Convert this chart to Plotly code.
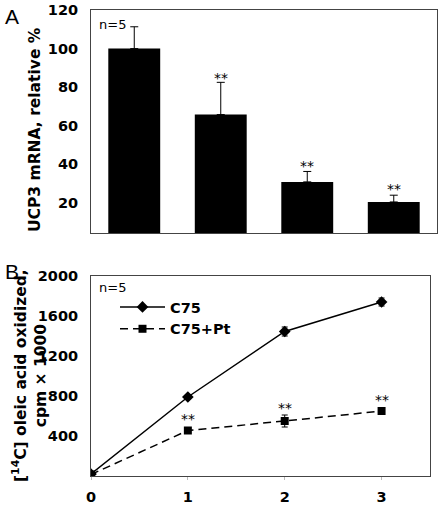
import plotly.graph_objects as go

# Panel A data
a_x = [0, 1, 2, 3]
a_vals = [100, 65.8, 30.9, 20.5]
a_err = [11.3, 16.7, 5.4, 3.5]
a_star_idx = [1, 2, 3]
a_star_y = [84.7, 38.9, 27.4]
a_yticks = [20, 40, 60, 80, 100, 120]

# Panel B data
b_x = [0, 1, 2, 3]
c75 = [20, 790, 1445, 1740]
c75_err = [0, 20, 45, 40]
c75pt = [15, 455, 550, 650]
c75pt_err = [0, 15, 60, 30]
b_star_x = [1, 2, 3]
b_star_y = [570, 677, 760]
b_yticks = [400, 800, 1200, 1600, 2000]
b_xticks = [0, 1, 2, 3]

FONT = "DejaVu Sans"
fig = go.Figure()

fig.add_trace(go.Bar(
    x=a_x, y=a_vals, marker=dict(color="black", line=dict(width=0)),
    error_y=dict(type="data", symmetric=False, array=a_err, arrayminus=[0]*4,
                 color="black", thickness=1, width=4),
    xaxis="x", yaxis="y", showlegend=False))

fig.add_trace(go.Scatter(
    x=b_x, y=c75, mode="lines+markers", name="C75",
    line=dict(color="black", width=1.5),
    marker=dict(symbol="diamond", size=9, color="black"),
    error_y=dict(type="data", array=c75_err, color="black", thickness=1, width=3),
    xaxis="x2", yaxis="y2"))
fig.add_trace(go.Scatter(
    x=b_x, y=c75pt, mode="lines+markers", name="C75+Pt",
    line=dict(color="black", width=1.5, dash="8px,5px"),
    marker=dict(symbol="square", size=8, color="black"),
    error_y=dict(type="data", array=c75pt_err, color="black", thickness=1, width=3),
    xaxis="x2", yaxis="y2"))

W, H = 438, 506
PL, PR, PT, PB = 91, 437, 10, 476   # plot area in page px
pw, ph = PR - PL, PB - PT
def yf(py):
    return (PB - py) / ph
def xf(px):
    return (px - PL) / pw

TICKF = dict(family=FONT, size=14.5, color="black", weight="bold")
axis_common = dict(showline=True, mirror=True, linecolor="#444", linewidth=1,
                   showgrid=False, zeroline=False, automargin=False, tickfont=TICKF)

fig.update_layout(
    width=W, height=H, plot_bgcolor="white", paper_bgcolor="white",
    margin=dict(l=PL, r=W - PR, t=PT, b=H - PB, autoexpand=False),
    bargap=0.4,
    xaxis=dict(domain=[0, 1], range=[-0.5, 3.5], showticklabels=False,
               ticks="", anchor="y", **axis_common),
    yaxis=dict(domain=[yf(233), 1], range=[4.4, 120], tickvals=a_yticks,
               ticks="", ticklabelstandoff=9, anchor="x", **axis_common),
    xaxis2=dict(domain=[0, xf(430)], range=[0, 3.5], tickvals=b_xticks,
                ticks="outside", ticklen=3, tickcolor="#bbb",
                ticklabelstandoff=5, anchor="y2", **axis_common),
    yaxis2=dict(domain=[0, yf(276)], range=[0, 2000], tickvals=b_yticks,
                ticks="", ticklabelstandoff=9, anchor="x2", **axis_common),
    legend=dict(x=xf(115), y=yf(291), xanchor="left", yanchor="top",
                bgcolor="rgba(0,0,0,0)", itemwidth=45,
                font=dict(family=FONT, size=14.5, color="black", weight="bold"),
                tracegroupgap=2),
    font=dict(family=FONT, color="black"),
)

def note(x, y, text, font, xref="paper", yref="paper", angle=0):
    return dict(x=x, y=y, xref=xref, yref=yref, text=text, showarrow=False,
                xanchor="center", yanchor="middle", textangle=angle, font=font)

STAR = dict(family=FONT, size=14, color="black")
ann = []
for xi, yi in zip(a_star_idx, a_star_y):
    ann.append(note(xi, yi, "**", STAR, "x", "y"))
for xi, yi in zip(b_star_x, b_star_y):
    ann.append(note(xi, yi, "**", STAR, "x2", "y2"))
NF = dict(family=FONT, size=13, color="black")
ann.append(note(xf(112), yf(25), "n=5", NF))
ann.append(note(xf(112), yf(287), "n=5", NF))
LF = dict(family="Liberation Sans", size=21, color="black")
ann.append(note(xf(12), yf(16), "A", LF))
ann.append(note(xf(12), yf(271), "B", LF))
TF = dict(family=FONT, size=15.5, color="black", weight="bold")
ann.append(note(xf(35), yf(130), "UCP3 mRNA, relative %", TF, angle=-90))
ann.append(note(xf(29), yf(376), "[<sup>14</sup>C] oleic acid oxidized,<br>cpm \u00d7 1000",
                TF, angle=-90))
fig.update_layout(annotations=ann)

fig.write_html("out.html", config={"displayModeBar": False},
               post_script="document.body.style.margin='0';")
